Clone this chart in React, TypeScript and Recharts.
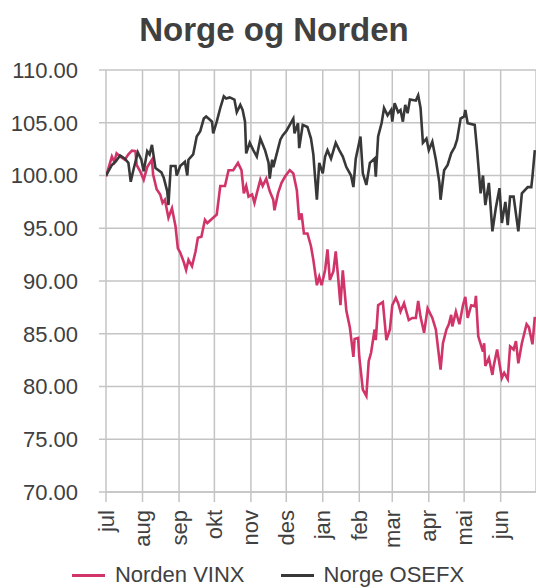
import React from 'react'
import { LineChart, Line, XAxis, YAxis, CartesianGrid, Legend } from 'recharts'

// månedsstart (dag nr. fra 1. juli) og etiketter
const monthStarts = [0, 31, 62, 92, 123, 153, 184, 215, 243, 274, 304, 335]
const monthLabels = ['jul', 'aug', 'sep', 'okt', 'nov', 'des', 'jan', 'feb', 'mar', 'apr', 'mai', 'jun']
const yTicks = [70, 75, 80, 85, 90, 95, 100, 105, 110]

// Norge OSEFX (indeksert, 100 = start)
const osefxDays = [
  0, 5, 8, 12, 16, 19, 21, 23, 27, 30, 32, 35, 37, 39, 42, 47, 49, 52, 53, 55,
  59, 60, 63, 67, 69, 70, 74, 77, 80, 83, 85, 88, 90, 91, 94, 97, 100, 102, 105, 109,
  111, 114, 116, 118, 119, 122, 125, 128, 131, 135, 138, 139, 141, 142, 145, 148, 150, 153, 156, 159,
  160, 163, 164, 167, 171, 174, 176, 177, 179, 181, 184, 186, 188, 191, 195, 198, 201, 204, 208, 210,
  212, 216, 218, 221, 224, 228, 229, 231, 234, 236, 239, 242, 243, 245, 248, 250, 252, 254, 256, 258,
  263, 265, 267, 269, 272, 274, 277, 280, 283, 284, 287, 290, 293, 296, 298, 301, 304, 305, 307, 313,
  315, 318, 320, 322, 325, 328, 331, 334, 336, 339, 341, 343, 346, 350, 353, 358, 361, 362, 364,
]
const osefx = [
  100.0, 101.0, 101.3, 101.9, 101.6, 101.2, 99.4, 100.4, 102.2, 101.5, 100.4, 102.3, 102.0, 102.9, 100.7, 100.3, 99.8, 98.5, 97.2, 100.9,
  100.9, 100.0, 100.9, 101.3, 100.0, 101.5, 102.0, 103.7, 104.2, 105.4, 105.6, 105.3, 105.1, 104.0, 105.1, 106.4, 107.5, 107.3, 107.4, 107.2,
  106.0, 106.7, 106.2, 105.1, 102.1, 103.1, 102.4, 101.8, 103.5, 102.4, 101.2, 99.7, 101.5, 100.8, 102.1, 103.4, 103.8, 104.2, 104.8, 105.4,
  104.0, 104.95, 102.6, 104.8, 104.6, 103.5, 102.0, 100.5, 97.7, 101.2, 100.2, 101.8, 102.4, 101.6, 103.1, 102.4, 101.8, 100.8, 100.0, 98.9,
  101.6, 103.7, 100.2, 99.1, 101.2, 101.6, 99.9, 103.7, 105.0, 106.4, 105.7, 106.2, 105.1, 106.85, 106.0, 106.2, 105.1, 106.7, 105.9, 107.2,
  107.1, 107.6, 106.4, 103.1, 103.5, 102.4, 103.2, 101.5, 99.3, 97.7, 100.5, 101.0, 102.1, 102.7, 103.4, 105.4, 105.6, 106.2, 104.95, 104.8,
  102.4, 98.3, 100.0, 97.2, 99.3, 94.7, 97.0, 98.8, 95.5, 97.5, 95.3, 98.0, 98.0, 94.7, 98.3, 98.9, 98.9, 99.9, 102.4,
]

// Norden VINX (indeksert, 100 = start)
const vinxDays = [
  0, 5, 7, 9, 12, 16, 19, 22, 25, 26, 29, 32, 35, 39, 40, 43, 46, 48, 50, 53,
  56, 59, 61, 63, 66, 68, 70, 73, 76, 78, 81, 84, 86, 91, 94, 97, 101, 104, 108, 112,
  115, 117, 119, 121, 124, 126, 128, 131, 133, 136, 139, 142, 143, 146, 149, 152, 156, 159, 162, 164,
  166, 168, 171, 174, 176, 179, 181, 183, 186, 188, 190, 193, 195, 197, 199, 201, 204, 207, 210, 211,
  214, 215, 218, 221, 223, 225, 228, 229, 231, 235, 238, 241, 243, 246, 248, 250, 253, 257, 260, 263,
  265, 267, 270, 273, 277, 280, 284, 286, 289, 291, 293, 294, 297, 300, 303, 305, 307, 310, 313, 314,
  316, 320, 321, 322, 325, 328, 329, 332, 336, 338, 341, 343, 346, 348, 350, 353, 357, 359, 362, 364,
]
const vinx = [
  99.9, 101.8, 101.3, 102.1, 101.8, 101.5, 102.0, 102.35, 102.3, 101.0, 100.4, 99.6, 100.8, 101.5, 100.1, 98.7, 98.2, 97.4, 97.7, 96.0,
  96.9, 95.2, 93.1, 92.7, 91.8, 91.05, 92.0, 91.4, 92.8, 94.1, 94.2, 95.8, 95.5, 96.0, 96.3, 99.0, 99.0, 100.5, 100.5, 101.2,
  100.5, 98.3, 99.0, 98.0, 98.2, 97.4, 98.3, 99.6, 99.0, 99.7, 98.5, 97.7, 96.7, 98.3, 99.3, 99.9, 100.5, 100.2, 98.6, 95.8,
  96.4, 94.5, 94.5, 93.3, 92.0, 89.6, 90.4, 89.6, 91.05, 93.0, 90.1, 90.9, 92.8, 90.4, 87.7, 91.0, 87.2, 85.6, 82.8, 84.5,
  84.6, 82.8, 79.7, 79.1, 82.4, 83.2, 85.4, 84.4, 87.7, 88.0, 84.4, 85.4, 87.7, 88.4, 87.9, 87.1, 87.9, 86.3, 86.5, 86.5,
  88.1, 86.6, 85.1, 87.4, 86.5, 85.4, 81.6, 84.1, 85.4, 85.9, 86.8, 85.7, 87.1, 85.9, 87.7, 88.5, 86.5, 87.7, 87.6, 88.6,
  84.75, 83.3, 84.1, 81.95, 82.7, 81.1, 81.9, 83.5, 80.8, 81.3, 80.7, 83.8, 83.5, 84.3, 82.2, 84.1, 85.9, 85.6, 84.0, 86.6,
]

const osefxData = osefxDays.map((day, i) => ({ day, value: osefx[i] }))
const vinxData = vinxDays.map((day, i) => ({ day, value: vinx[i] }))

const TEXT = '#404040'
const GRID = '#c4c4c4'
const VINX_COLOR = '#d03468'
const OSEFX_COLOR = '#383838'
const FONT = '"Liberation Sans", Arial, sans-serif'

const MonthTick = ({ x, y, payload }: any) => {
  const idx = monthStarts.indexOf(payload.value)
  return (
    <g transform={`translate(${x},${y})`}>
      <text transform="rotate(-90)" textAnchor="end" dominantBaseline="central" fill={TEXT} fontSize={22} fontFamily={FONT}>
        {monthLabels[idx]}
      </text>
    </g>
  )
}

const LegendContent = () => (
  <div style={{ height: 34, boxSizing: 'border-box', paddingTop: 8, display: 'flex', justifyContent: 'center', gap: 36, fontFamily: FONT, fontSize: 22, color: TEXT, lineHeight: '26px' }}>
    {[{ name: 'Norden VINX', color: VINX_COLOR }, { name: 'Norge OSEFX', color: OSEFX_COLOR }].map(it => (
      <div key={it.name} style={{ display: 'flex', alignItems: 'center' }}>
        <span style={{ display: 'inline-block', width: 33, height: 3, background: it.color, marginRight: 10 }} />
        <span>{it.name}</span>
      </div>
    ))}
  </div>
)

export default function App() {
  return (
    <div style={{ position: 'absolute', left: 0, top: 0, width: 536, height: 588, background: '#fff', fontFamily: FONT }}>
      <div style={{ position: 'absolute', top: 11, left: 6, width: 536, textAlign: 'center', fontSize: 33, fontWeight: 'bold', color: TEXT }}>
        Norge og Norden
      </div>
      <LineChart width={536} height={588} margin={{ top: 70, right: 0, bottom: 0, left: 0 }}>
        <CartesianGrid stroke={GRID} strokeWidth={1.5} />
        <XAxis
          type="number"
          dataKey="day"
          domain={[0, 365]}
          ticks={monthStarts}
          interval={0}
          height={62}
          tick={<MonthTick />}
          tickSize={10}
          tickMargin={8}
          axisLine={{ stroke: GRID, strokeWidth: 1.5 }}
          tickLine={{ stroke: GRID, strokeWidth: 1.5 }}
          allowDataOverflow
        />
        <YAxis
          type="number"
          domain={[70, 110]}
          ticks={yTicks}
          interval={0}
          width={106}
          tickFormatter={(v: number) => v.toFixed(2)}
          tick={{ fill: TEXT, fontSize: 22, fontFamily: FONT }}
          tickSize={7}
          tickMargin={21}
          axisLine={false}
          tickLine={{ stroke: GRID, strokeWidth: 1.5 }}
          allowDataOverflow
        />
        <Legend verticalAlign="bottom" content={<LegendContent />} />
        <Line data={vinxData} dataKey="value" name="Norden VINX" type="linear" stroke={VINX_COLOR} strokeWidth={2.6} dot={false} isAnimationActive={false} />
        <Line data={osefxData} dataKey="value" name="Norge OSEFX" type="linear" stroke={OSEFX_COLOR} strokeWidth={2.6} dot={false} isAnimationActive={false} />
      </LineChart>
    </div>
  )
}
